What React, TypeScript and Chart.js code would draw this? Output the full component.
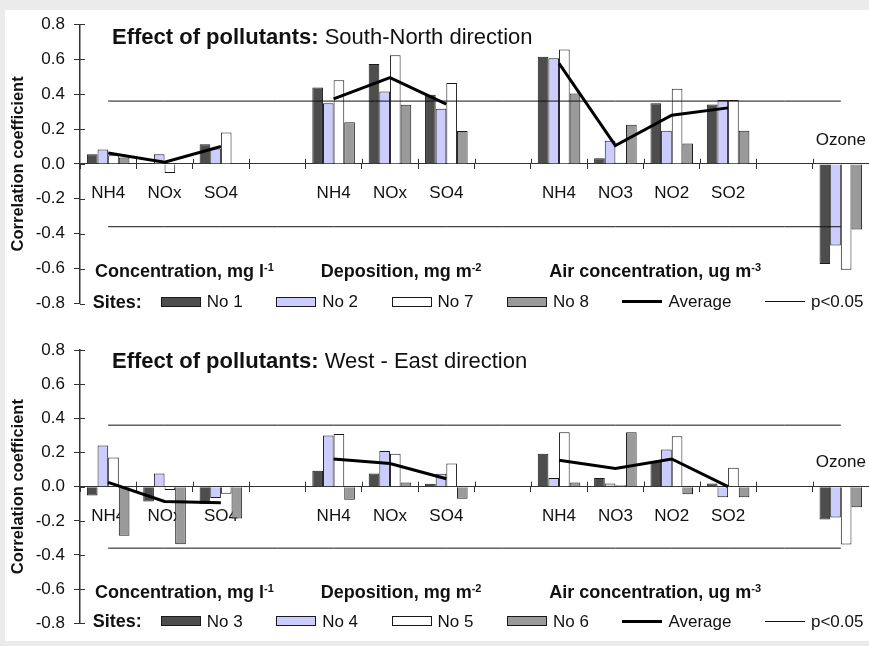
import React, { useEffect, useRef } from 'react';
import { Chart, registerables } from 'chart.js';

Chart.register(...registerables);

const FONT = '"Liberation Sans", Arial, Helvetica, sans-serif';

// ---------- data ----------
const categories = ['NH4', 'NOx', 'SO4', '', 'NH4', 'NOx', 'SO4', '', 'NH4', 'NO3', 'NO2', 'SO2', '', 'Ozone'];
const yMin = -0.8;
const yMax = 0.8;
const yStep = 0.2;
const significanceLevel = 0.36;

const groupLabels = ['Concentration, mg l', 'Deposition, mg m', 'Air concentration, ug m'];
const groupExponents = ['-1', '-2', '-3'];

const averageLabel = 'Average';
const pLabel = 'p<0.05';
const sitesLabel = 'Sites:';

// South-North direction
const snTitle = ['Effect of pollutants:', 'South-North direction'];
const snSites = ['No 1', 'No 2', 'No 7', 'No 8'];
const snNo1 = [0.056, 0.005, 0.113, null, 0.438, 0.572, 0.396, null, 0.614, 0.033, 0.347, 0.341, null, -0.574];
const snNo2 = [0.083, 0.056, 0.088, null, 0.347, 0.415, 0.316, null, 0.605, 0.132, 0.19, 0.366, null, -0.467];
const snNo7 = [0.05, -0.052, 0.18, null, 0.48, 0.622, 0.463, null, 0.656, 0.006, 0.43, 0.366, null, -0.606];
const snNo8 = [0.037, 0.005, 0.005, null, 0.239, 0.339, 0.189, null, 0.404, 0.224, 0.117, 0.19, null, -0.376];
const snAverage = [0.063, 0.01, 0.1, null, 0.373, 0.494, 0.343, null, 0.576, 0.105, 0.279, 0.321, null, null];

// West-East direction
const weTitle = ['Effect of pollutants:', 'West - East direction'];
const weSites = ['No 3', 'No 4', 'No 5', 'No 6'];
const weNo3 = [-0.052, -0.087, -0.1, null, 0.093, 0.077, 0.017, null, 0.193, 0.05, 0.147, 0.019, null, -0.193];
const weNo4 = [0.241, 0.077, -0.067, null, 0.3, 0.208, 0.075, null, 0.05, 0.019, 0.218, -0.062, null, -0.181];
const weNo5 = [0.17, -0.02, -0.042, null, 0.308, 0.193, 0.135, null, 0.318, 0.008, 0.295, 0.11, null, -0.339];
const weNo6 = [-0.287, -0.337, -0.187, null, -0.077, 0.025, -0.071, null, 0.025, 0.318, -0.044, -0.062, null, -0.12];
const weAverage = [0.025, -0.087, -0.094, null, 0.162, 0.135, 0.046, null, 0.154, 0.106, 0.162, 0.0, null, null];

// ---------- styles ----------
const siteColors = ['#4d4d4d', '#ccccff', '#ffffff', '#9a9a9a'];
const AXIS_COLOR = '#333333';
const TEXT_COLOR = '#111111';

const crossTicksPlugin = {
  id: 'crossTicks',
  beforeDatasetsDraw(chart: any) {
    const { ctx, scales } = chart;
    const x = scales.x;
    const y = scales.y;
    const zero = y.getPixelForValue(0);
    ctx.save();
    ctx.strokeStyle = AXIS_COLOR;
    ctx.lineWidth = 1;
    ctx.beginPath();
    for (let i = 1; i < categories.length; i++) {
      const px = Math.round((x.getPixelForValue(i - 1) + x.getPixelForValue(i)) / 2) + 0.5;
      ctx.moveTo(px, zero - 5);
      ctx.lineTo(px, zero);
    }
    for (const t of y.ticks) {
      const py = Math.round(y.getPixelForValue(t.value)) + 0.5;
      ctx.moveTo(x.left, py);
      ctx.lineTo(x.left + 5, py);
    }
    ctx.stroke();
    const oi = categories.indexOf('Ozone');
    ctx.fillStyle = TEXT_COLOR;
    ctx.font = `17px ${FONT}`;
    ctx.textAlign = 'center';
    ctx.textBaseline = 'middle';
    ctx.fillText(categories[oi], x.getPixelForValue(oi), zero - 24);
    ctx.restore();
  },
};

type PanelProps = {
  top: number;
  height: number;
  padTop: number;
  padBottom: number;
  title: string[];
  titleTop: number;
  groupTop: number;
  legendCenter: number;
  sites: string[];
  series: (number | null)[][];
  average: (number | null)[];
};

function Panel(p: PanelProps) {
  const ref = useRef<HTMLCanvasElement>(null);

  useEffect(() => {
    const canvas = ref.current;
    if (!canvas) return;
    const upper = categories.map(() => significanceLevel);
    const lower = categories.map(() => -significanceLevel);
    const chart = new Chart(canvas, {
      type: 'bar',
      data: {
        labels: categories,
        datasets: [
          {
            type: 'line',
            label: averageLabel,
            data: p.average,
            borderColor: '#000',
            borderWidth: 3,
            pointRadius: 0,
            spanGaps: false,
            fill: false,
            order: 0,
          } as any,
          {
            type: 'line',
            label: pLabel,
            data: upper,
            borderColor: '#111',
            borderWidth: 1,
            pointRadius: 0,
            fill: false,
            order: 0,
          } as any,
          {
            type: 'line',
            label: pLabel,
            data: lower,
            borderColor: '#111',
            borderWidth: 1,
            pointRadius: 0,
            fill: false,
            order: 0,
          } as any,
          ...p.sites.map((s, i) => ({
            type: 'bar',
            label: s,
            data: p.series[i],
            backgroundColor: siteColors[i],
            borderColor: '#1a1a1a',
            borderWidth: 1,
            categoryPercentage: 0.755,
            barPercentage: 1,
            order: 1,
          })) as any,
        ],
      },
      options: {
        responsive: false,
        animation: false,
        devicePixelRatio: 1,
        events: [],
        layout: { padding: { top: p.padTop, bottom: p.padBottom, left: 0, right: 0 } },
        plugins: {
          legend: { display: false },
          tooltip: { enabled: false },
          title: { display: false },
        },
        scales: {
          x: {
            type: 'category',
            position: { y: 0 } as any,
            offset: true,
            grid: {
              offset: true,
              drawOnChartArea: false,
              drawTicks: true,
              tickLength: 5,
              color: AXIS_COLOR,
              lineWidth: 1,
            },
            border: { display: true, color: AXIS_COLOR, width: 1 },
            ticks: {
              autoSkip: false,
              maxRotation: 0,
              minRotation: 0,
              padding: 14,
              color: TEXT_COLOR,
              font: { family: FONT, size: 17 },
              callback: (_v: any, i: number) => (categories[i] === 'Ozone' ? '' : categories[i]),
            },
          },
          y: {
            min: yMin,
            max: yMax,
            ticks: {
              stepSize: yStep,
              padding: 9,
              color: TEXT_COLOR,
              font: { family: FONT, size: 17 },
              callback: (v: any) => Number(v).toFixed(1),
            },
            grid: { drawOnChartArea: false, tickLength: 6, color: AXIS_COLOR, lineWidth: 1 },
            border: { display: true, color: AXIS_COLOR, width: 1.5 },
            title: {
              display: true,
              text: 'Correlation coefficient',
              color: TEXT_COLOR,
              font: { family: FONT, size: 16.5, weight: 'bold' },
              padding: { top: 9, bottom: 0 },
            },
            afterFit: (s: any) => {
              s.width = 80;
            },
          },
        },
      } as any,
      plugins: [crossTicksPlugin],
    });
    return () => chart.destroy();
  }, []);

  const groupX = [95, 320.7, 549.3];

  return (
    <>
      <canvas
        ref={ref}
        width={869}
        height={p.height}
        style={{ position: 'absolute', left: 0, top: p.top, width: 869, height: p.height }}
      />
      <div
        style={{
          position: 'absolute',
          left: 112,
          top: p.titleTop,
          fontSize: 22,
          lineHeight: 1,
          whiteSpace: 'nowrap',
          color: TEXT_COLOR,
        }}
      >
        <b>{p.title[0]}</b> {p.title[1]}
      </div>
      {groupLabels.map((g, i) => (
        <div
          key={g}
          style={{
            position: 'absolute',
            left: groupX[i],
            top: p.groupTop,
            fontSize: 18,
            lineHeight: 1,
            fontWeight: 'bold',
            whiteSpace: 'nowrap',
            color: TEXT_COLOR,
          }}
        >
          {g}
          <span style={{ fontSize: 11, verticalAlign: 'top', lineHeight: 1, position: 'relative', top: 0 }}>
            {groupExponents[i]}
          </span>
        </div>
      ))}
      <div
        style={{
          position: 'absolute',
          left: 92.7,
          top: p.legendCenter - 10,
          height: 20,
          display: 'flex',
          alignItems: 'center',
          whiteSpace: 'nowrap',
          color: TEXT_COLOR,
          lineHeight: 1,
        }}
      >
        <span style={{ fontSize: 18, fontWeight: 'bold', marginRight: 19 }}>{sitesLabel}</span>
        {p.sites.map((s, i) => (
          <span key={s} style={{ display: 'flex', alignItems: 'center', marginRight: 33.5 }}>
            <span
              style={{
                width: 40,
                height: 10,
                boxSizing: 'border-box',
                border: '1px solid #1a1a1a',
                background: siteColors[i],
                marginRight: 6,
                display: 'inline-block',
              }}
            />
            <span style={{ fontSize: 17 }}>{s}</span>
          </span>
        ))}
        <span style={{ display: 'flex', alignItems: 'center', marginRight: 33.5 }}>
          <span style={{ width: 40, height: 3, background: '#000', marginRight: 6, display: 'inline-block' }} />
          <span style={{ fontSize: 17 }}>{averageLabel}</span>
        </span>
        <span style={{ display: 'flex', alignItems: 'center' }}>
          <span style={{ width: 40, height: 1, background: '#111', marginRight: 6, display: 'inline-block' }} />
          <span style={{ fontSize: 17 }}>{pLabel}</span>
        </span>
      </div>
    </>
  );
}

export default function App() {
  return (
    <div
      style={{
        position: 'fixed',
        left: 0,
        top: 0,
        width: 869,
        height: 646,
        background: '#ebebeb',
        overflow: 'hidden',
        fontFamily: FONT,
      }}
    >
      <div style={{ position: 'absolute', left: 5, top: 10, width: 864, height: 631, background: '#ffffff' }} />
      <Panel
        top={0}
        height={323}
        padTop={24.3}
        padBottom={19.5}
        title={snTitle}
        titleTop={26.4}
        groupTop={262}
        legendCenter={301.7}
        sites={snSites}
        series={[snNo1, snNo2, snNo7, snNo8]}
        average={snAverage}
      />
      <Panel
        top={323}
        height={323}
        padTop={27}
        padBottom={22.7}
        title={weTitle}
        titleTop={350}
        groupTop={582.9}
        legendCenter={621.2}
        sites={weSites}
        series={[weNo3, weNo4, weNo5, weNo6]}
        average={weAverage}
      />
    </div>
  );
}
